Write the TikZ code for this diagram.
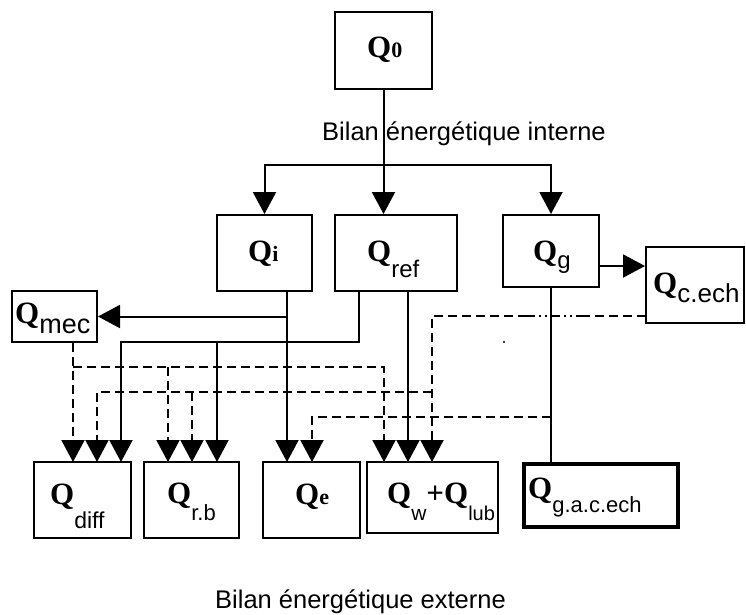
\documentclass[tikz,border=0pt]{standalone}
\usepackage{fontspec}
\setmainfont{Liberation Serif}
\newfontfamily\sansf{Liberation Sans}
\usetikzlibrary{arrows.meta}

% Bold serif capital Q
\newcommand{\BQ}{{\fontsize{31}{31}\selectfont\bfseries Q}}
% bold serif index on the baseline
\newcommand{\bsub}[1]{{\fontsize{22}{22}\selectfont\bfseries #1}}
% lowered sans-serif index: drop, size, text
\newcommand{\sublow}[3]{\raisebox{-#1pt}{\fontsize{#2}{#2}\selectfont\sansf #3}}

\begin{document}
\begin{tikzpicture}[x=1pt,y=-1pt,
  box/.style={draw, line width=2pt, inner sep=0pt},
  lbl/.style={anchor=base west, inner sep=0pt},
  caption/.style={anchor=base west, inner sep=0pt, font=\fontsize{25.5}{25.5}\selectfont\sansf},
  wire/.style={line width=2pt},
  dashwire/.style={line width=2pt, dash pattern=on 9pt off 5pt},
  dotwire/.style={line width=2pt, dash pattern=on 9pt off 4pt on 2pt off 4pt on 2pt off 4pt},
  arrowend/.style={-{Triangle[length=22pt,width=23pt]}}]

\useasboundingbox (0,0) rectangle (746,614);

% ---- boxes ----
\node[box, minimum width=97pt,  minimum height=77pt] (q0)    at (383.5,50.5) {};
\node[box, minimum width=95pt,  minimum height=76pt] (qi)    at (264.5,253)  {};
\node[box, minimum width=122pt, minimum height=76pt] (qref)  at (396,253)    {};
\node[box, minimum width=96pt,  minimum height=72pt] (qg)    at (551,251)    {};
\node[box, minimum width=98pt,  minimum height=76pt] (qcech) at (695,285)    {};
\node[box, minimum width=85pt,  minimum height=51pt] (qmec)  at (54.5,316.5) {};
\node[box, minimum width=97pt,  minimum height=76pt] (qdiff) at (82.5,500)   {};
\node[box, minimum width=95pt,  minimum height=76pt] (qrb)   at (191.5,500)  {};
\node[box, minimum width=97pt,  minimum height=76pt] (qe)    at (311.5,500)  {};
\node[box, minimum width=131pt, minimum height=71pt] (qwl)   at (432.5,497.5){};
\node[box, line width=3.5pt, minimum width=154pt, minimum height=63pt] (qgac) at (601,495.5) {};

% ---- box labels ----
\node[lbl] (t0)    at (367,57)      {\BQ\bsub{0}};
\node[lbl] (ti)    at (248,261.5)   {\BQ\bsub{i}};
\node[lbl] (tref)  at (367,261.5)   {\BQ\sublow{15.5}{24}{ref}};
\node[lbl] (tg)    at (533,261.5)   {\BQ\sublow{6.5}{24}{g}};
\node[lbl] (tcech) at (653,293.5)   {\BQ\sublow{8.5}{26}{c.ech}};
\node[lbl] (tmec)  at (15,323.5)    {\BQ\sublow{9.5}{27}{mec}};
\node[lbl] (tdiff) at (50,504.5)    {\BQ\sublow{23.5}{23}{diff}};
\node[lbl] (trb)   at (167,503.5)   {\BQ\sublow{16.5}{22}{r.b}};
\node[lbl] (te)    at (295,504.5)   {\BQ\bsub{e}};
\node[lbl] (twl)   at (387,503.5)   {\BQ\sublow{16.5}{21}{w}{\fontsize{31}{31}\selectfont\bfseries +}\BQ\sublow{16.5}{20}{lub}};
\node[lbl] (tgac)  at (528,498.5)   {\BQ\sublow{13.5}{22}{g.a.c.ech}};

% ---- captions ----
\node[caption] (cint) at (322,140) {Bilan énergétique interne};
\node[caption] (cext) at (215,608) {Bilan énergétique externe};

% ---- entry points on the lower boxes ----
\coordinate (d1) at (73,462);  \coordinate (d2) at (97,462);  \coordinate (d3) at (121,462);
\coordinate (b1) at (168,462); \coordinate (b2) at (192,462); \coordinate (b3) at (217,462);
\coordinate (e1) at (287,462); \coordinate (e2) at (312,462);
\coordinate (w1) at (384,462); \coordinate (w2) at (408,462); \coordinate (w3) at (432,462);

% ---- internal balance: Q0 splits into Qi, Qref, Qg ----
\coordinate (bus) at (383.5,165);
\draw[wire] (q0.south) -- (bus);
\draw[wire,arrowend] (bus) -- (bus |- qref.north);
\draw[wire,arrowend] (bus) -| (qi.north);
\draw[wire,arrowend] (bus) -| (qg.north);
\draw[wire,arrowend] ([yshift=-15pt]qg.east) -- ([yshift=-15pt]qg.east -| qcech.west);

% ---- solid flows ----
\draw[wire,arrowend] (qi.south -| e1) -- (e1);
\draw[wire,arrowend] (e1 |- qmec.east) -- (qmec.east);
\coordinate (rA) at (359,342);
\draw[wire,arrowend] (qref.south -| rA) -- (rA) -| (d3);
\draw[wire,arrowend] (rA -| b3) -- (b3);
\draw[wire,arrowend] (qref.south -| w2) -- (w2);
\draw[wire] (qg.south) -- (qg.south |- qgac.north);

% ---- dashed flows from Qmec ----
\coordinate (mA) at (73,367);
\draw[dashwire,arrowend] (qmec.south -| d1) -- (d1);
\draw[dashwire,arrowend] (mA) -| (w1);
\draw[dashwire,arrowend] (mA -| b1) -- (b1);

% ---- dashed flows from Qc.ech ----
\coordinate (cA) at (646,316);
\coordinate (cB) at (585,316);
\coordinate (cC) at (527,316);
\draw[dashwire] (cA) -- (cB);
\draw[dotwire] (cB) -- (cC);
\draw[dashwire,arrowend] (cC) -- (w3 |- cA) -- (w3);
\coordinate (cE) at (432,392);
\draw[dashwire,arrowend] (cE) -| (d2);
\draw[dashwire,arrowend] (cE -| b2) -- (b2);

% ---- dashed flow from Qg to Qe ----
\coordinate (gE) at (551,417);
\draw[dashwire,arrowend] (gE) -| (e2);

\fill (504,342) circle (1.2pt);
\end{tikzpicture}
\end{document}
